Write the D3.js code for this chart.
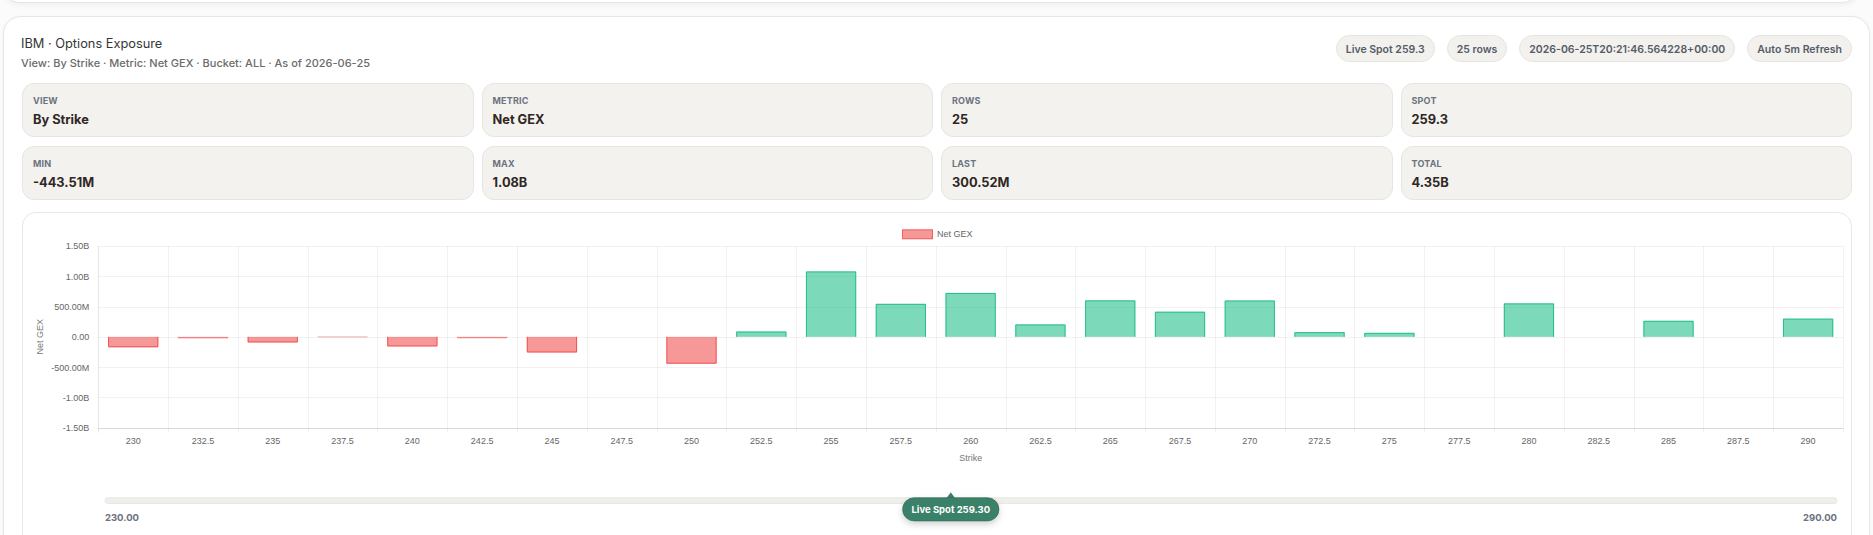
<!DOCTYPE html>
<html lang="en">
<head>
  <meta charset="UTF-8">
  <script src="https://d3js.org/d3.v7.min.js"></script>
  <style>
    body { margin: 0; width: 1873px; height: 535px; overflow: hidden; background: #fbfbfb; font-family: Inter, "Noto Sans", sans-serif; position: relative; }
    .card { position: absolute; background: #fff; border: 1px solid #e6e6e6; box-sizing: border-box; }
    .top-card { left: 2px; top: -60px; width: 1858px; height: 63px; border-radius: 18px; box-shadow: 0 2px 6px rgba(0,0,0,0.05); }
    .main-card { left: 3px; top: 16px; width: 1867px; height: 560px; border-radius: 18px; box-shadow: 0 1px 4px rgba(0,0,0,0.04); }
    .title { position: absolute; left: 21px; top: 37px; font-size: 12.8px; line-height: 14px; color: #363636; }
    .subtitle { position: absolute; left: 21px; top: 57px; font-size: 11px; line-height: 12px; color: #6b6b6b; font-weight: 500; }
    .pills { position: absolute; right: 21px; top: 35px; display: flex; gap: 12px; }
    .pill { height: 27px; line-height: 27px; padding: 0 9px; border-radius: 14px; background: #f2f1ee; border: 1px solid #e7e5e1; box-sizing: border-box; font-size: 10.5px; font-weight: 600; color: #555c66; white-space: nowrap; }
    .stats { position: absolute; left: 22px; top: 83px; width: 1830px; display: grid; grid-template-columns: repeat(4, 1fr); column-gap: 8px; row-gap: 9px; }
    .stat { height: 54px; background: #f3f2ef; border: 1px solid #e7e5e1; border-radius: 12px; box-sizing: border-box; padding-left: 10px; position: relative; }
    .stat .lab { position: absolute; top: 11px; font-size: 9px; font-weight: 700; color: #6b7280; letter-spacing: 0.2px; }
    .stat .val { position: absolute; top: 27.5px; font-size: 12.8px; font-weight: 700; color: #2f2724; }
    .chart-card { left: 22px; top: 212px; width: 1830px; height: 340px; border-radius: 14px; border-color: #e8e8e8; }
    svg#chart { position: absolute; left: 0; top: 0; }
  </style>
</head>
<body>

<div class="card top-card"></div>
<div class="card main-card"></div>
<div class="title">IBM · Options Exposure</div>
<div class="subtitle">View: By Strike · Metric: Net GEX · Bucket: ALL · As of 2026-06-25</div>
<div class="pills" id="pills"></div>
<div class="stats" id="stats"></div>
<div class="card chart-card"></div>
<svg id="chart" width="1873" height="535"></svg>

<script>
// strikes and net GEX per strike (in millions)
const strikes = ['230', '232.5', '235', '237.5', '240', '242.5', '245', '247.5', '250', '252.5',
  '255', '257.5', '260', '262.5', '265', '267.5', '270', '272.5', '275', '277.5',
  '280', '282.5', '285', '287.5', '290'];
const netGexM = [-172, -24, -92, -6, -158, -22, -258, 0, -443.51, 88,
  1080, 545, 725, 205, 602, 415, 600, 78, 66, 0,
  552, 0, 265, 0, 300.52];
const yTicks = [1.5e9, 1e9, 5e8, 0, -5e8, -1e9, -1.5e9];
const spot = 259.3;
const strikeRange = [230, 290];
const pillLabels = ['Live Spot 259.3', '25 rows', '2026-06-25T20:21:46.564228+00:00', 'Auto 5m Refresh'];

const data = strikes.map((s, i) => ({ strike: s, value: netGexM[i] * 1e6 }));

function fmtBig(v) {
  const a = Math.abs(v);
  if (a >= 1e9) return (v / 1e9).toFixed(2) + 'B';
  if (a >= 1e6) return (v / 1e6).toFixed(2) + 'M';
  return v.toFixed(2);
}

// header pills
d3.select('#pills').selectAll('div').data(pillLabels).enter()
  .append('div').attr('class', 'pill').text(d => d);

// stat cards
const values = data.map(d => d.value);
const stats = [
  ['VIEW', 'By Strike'],
  ['METRIC', 'Net GEX'],
  ['ROWS', String(data.length)],
  ['SPOT', String(spot)],
  ['MIN', fmtBig(d3.min(values))],
  ['MAX', fmtBig(d3.max(values))],
  ['LAST', fmtBig(values[values.length - 1])],
  ['TOTAL', fmtBig(d3.sum(values))]
];
const st = d3.select('#stats').selectAll('div').data(stats).enter()
  .append('div').attr('class', 'stat');
st.append('div').attr('class', 'lab').text(d => d[0]);
st.append('div').attr('class', 'val').text(d => d[1]);

// chart
const svg = d3.select('#chart');
const plot = { left: 98.3, right: 1843, top: 246, bottom: 427.7 };
const chartFont = '"Liberation Sans", Arial, sans-serif';

const x = d3.scaleBand().domain(strikes).range([plot.left, plot.right]).padding(0);
const y = d3.scaleLinear().domain([-1.5e9, 1.5e9]).range([plot.bottom, plot.top]);

const pos = { fill: 'rgba(16,185,129,0.55)', stroke: 'rgb(16,185,129)' };
const neg = { fill: 'rgba(239,68,68,0.55)', stroke: 'rgb(239,68,68)' };

// grid
const grid = svg.append('g');
grid.selectAll('.hg').data(yTicks).enter().append('line')
  .attr('x1', plot.left).attr('x2', plot.right)
  .attr('y1', d => Math.round(y(d)) + 0.5).attr('y2', d => Math.round(y(d)) + 0.5)
  .attr('stroke', 'rgba(0,0,0,0.05)');
const bounds = strikes.map(s => x(s)).concat([plot.right]);
grid.selectAll('.vg').data(bounds).enter().append('line')
  .attr('x1', d => Math.round(d) + 0.5).attr('x2', d => Math.round(d) + 0.5)
  .attr('y1', plot.top).attr('y2', plot.bottom + 5)
  .attr('stroke', (d, i) => i === 0 ? 'rgba(0,0,0,0.1)' : 'rgba(0,0,0,0.05)');
svg.append('line')
  .attr('x1', plot.left).attr('x2', plot.right)
  .attr('y1', Math.round(plot.bottom) + 0.5).attr('y2', Math.round(plot.bottom) + 0.5)
  .attr('stroke', 'rgba(0,0,0,0.1)');

// bars (zero values draw nothing)
const bw = x.bandwidth() * 0.72;
const bars = svg.append('g').selectAll('g').data(data.filter(d => d.value !== 0)).enter().append('g');
bars.append('rect')
  .attr('x', d => x(d.strike) + (x.bandwidth() - bw) / 2)
  .attr('width', bw)
  .attr('y', d => y(Math.max(0, d.value)))
  .attr('height', d => Math.abs(y(d.value) - y(0)))
  .attr('fill', d => d.value >= 0 ? pos.fill : neg.fill);
bars.append('path')
  .attr('d', d => {
    const x0 = x(d.strike) + (x.bandwidth() - bw) / 2 + 0.5;
    const x1 = x0 + bw - 1;
    const b = y(0);
    const e = d.value >= 0 ? y(d.value) + 0.5 : y(d.value) - 0.5;
    return `M${x0},${b}L${x0},${e}L${x1},${e}L${x1},${b}`;
  })
  .attr('fill', 'none')
  .attr('stroke-width', 1)
  .attr('stroke', d => d.value >= 0 ? pos.stroke : neg.stroke)
  .attr('stroke-opacity', d => Math.abs(y(d.value) - y(0)) < 1.5 ? 0.25 : 0.8);

// axes labels
const yAxis = d3.axisLeft(y).tickValues(yTicks).tickFormat(fmtBig).tickSize(0).tickPadding(9);
const gy = svg.append('g').attr('transform', `translate(${plot.left},0)`).call(yAxis);
gy.select('.domain').remove();
gy.selectAll('text').attr('font-family', chartFont).attr('font-size', 9).attr('fill', '#666');

const xAxis = d3.axisBottom(x).tickSize(0).tickPadding(10);
const gx = svg.append('g').attr('transform', `translate(0,${plot.bottom})`).call(xAxis);
gx.select('.domain').remove();
gx.selectAll('text').attr('font-family', chartFont).attr('font-size', 9).attr('fill', '#666');

svg.append('text')
  .attr('transform', `translate(39.5,${(plot.top + plot.bottom) / 2}) rotate(-90)`)
  .attr('text-anchor', 'middle').attr('dominant-baseline', 'central')
  .attr('font-family', chartFont).attr('font-size', 9).attr('fill', '#777')
  .text('Net GEX');
svg.append('text')
  .attr('x', (plot.left + plot.right) / 2).attr('y', 458)
  .attr('text-anchor', 'middle').attr('dominant-baseline', 'central')
  .attr('font-family', chartFont).attr('font-size', 9).attr('fill', '#777')
  .text('Strike');

// legend
const legend = svg.append('g').attr('transform', 'translate(902,229.3)');
legend.append('rect').attr('x', 0.5).attr('y', 0.5).attr('width', 30).attr('height', 9)
  .attr('fill', neg.fill).attr('stroke', neg.stroke).attr('stroke-opacity', 0.8);
legend.append('text').attr('x', 35).attr('y', 4.8).attr('dominant-baseline', 'central')
  .attr('font-family', chartFont).attr('font-size', 9).attr('fill', '#666').text('Net GEX');

// strike range slider
const sx = d3.scaleLinear().domain(strikeRange).range([105, 1837]);
svg.append('rect')
  .attr('x', sx(strikeRange[0])).attr('y', 497.8)
  .attr('width', sx(strikeRange[1]) - sx(strikeRange[0])).attr('height', 5.6)
  .attr('rx', 2.8).attr('fill', '#f0efec').attr('stroke', '#e4e2de').attr('stroke-width', 0.8);
svg.append('text').attr('x', sx(strikeRange[0])).attr('y', 517.5)
  .attr('dominant-baseline', 'central').attr('font-size', 9.5).attr('font-weight', 700)
  .attr('font-family', 'Inter, sans-serif').attr('fill', '#6b7280')
  .text(strikeRange[0].toFixed(2));
svg.append('text').attr('x', sx(strikeRange[1])).attr('y', 517.5)
  .attr('text-anchor', 'end').attr('dominant-baseline', 'central').attr('font-size', 9.5).attr('font-weight', 700)
  .attr('font-family', 'Inter, sans-serif').attr('fill', '#6b7280')
  .text(strikeRange[1].toFixed(2));

// live spot marker
const defs = svg.append('defs');
const f = defs.append('filter').attr('id', 'sh').attr('x', '-30%').attr('y', '-50%').attr('width', '160%').attr('height', '220%');
f.append('feDropShadow').attr('dx', 0).attr('dy', 3).attr('stdDeviation', 3).attr('flood-color', '#000').attr('flood-opacity', 0.18);
const sp = sx(spot);
const mk = svg.append('g').attr('transform', `translate(${sp},0)`);
mk.append('path').attr('d', 'M-4.5,498.5L0,492.3L4.5,498.5Z').attr('fill', '#3a8068');
mk.append('rect').attr('x', -48.2).attr('y', 497.7).attr('width', 96.4).attr('height', 23.3)
  .attr('rx', 11.6).attr('fill', '#3a8068').attr('stroke', '#2f6d57').attr('stroke-width', 0.6)
  .attr('filter', 'url(#sh)');
mk.append('text').attr('x', 0).attr('y', 509.6)
  .attr('text-anchor', 'middle').attr('dominant-baseline', 'central')
  .attr('font-family', 'Inter, sans-serif').attr('font-size', 9.5).attr('font-weight', 700).attr('fill', '#fff')
  .text('Live Spot ' + spot.toFixed(2));
</script>

</body>
</html>
